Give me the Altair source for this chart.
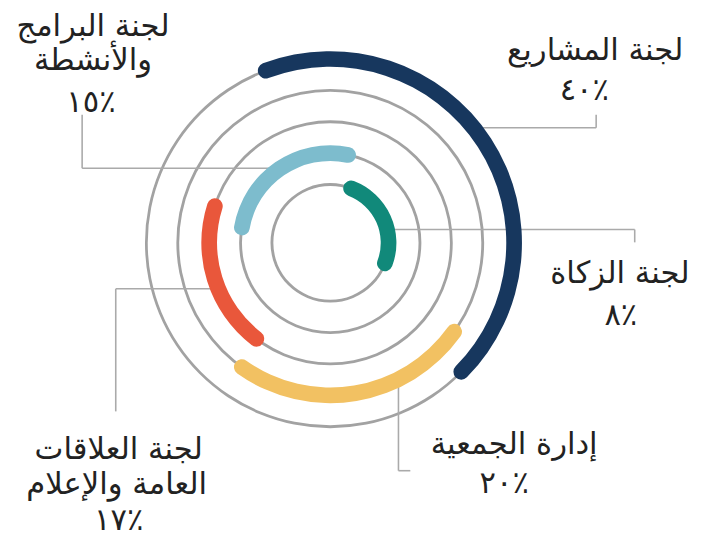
import altair as alt
import pandas as pd

# ---------------- data ----------------
names = [
    "لجنة المشاريع",
    "إدارة الجمعية",
    "لجنة العلاقات العامة والإعلام",
    "لجنة البرامج والأنشطة",
    "لجنة الزكاة",
]
percents = [40, 20, 17, 15, 8]
rings = [5, 4, 3, 2, 1]                      # ring each arc sits on (1 = innermost)
arc_start = [-23, 122.7, 213.9, 274.8, 13.2]  # degrees, clockwise from top
arc_end = [137, 218.4, 291.4, 376.5, 118.3]
colors = ["#17375e", "#f2c162", "#e9573b", "#7dbccd", "#11897a"]
ring_ids = [1, 2, 3, 4, 5]

# label lines (text split as displayed)
label_lines = [
    ["لجنة المشاريع"],
    ["إدارة الجمعية"],
    ["لجنة العلاقات", "العامة والإعلام"],
    ["لجنة البرامج", "والأنشطة"],
    ["لجنة الزكاة"],
]

# ---------------- layout ----------------
OFF = 8
CX, CY = 334 - OFF, 242.5 - OFF
label_x = [[602, 591], [520, 510], [120, 118, 120], [94, 94, 92], [627, 628]]
label_baselines = [[58, 98], [456, 496], [461, 497, 533], [33, 68, 110], [283, 326]]
leaders = [
    [(473, 126, 603, 126), (603, 113, 603, 126)],
    [(403, 378, 403, 473), (403, 473, 415, 473)],
    [(117, 289, 222, 289), (117, 289, 117, 413)],
    [(83, 113, 83, 167), (83, 167, 278, 167)],
    [(387, 229, 642, 229), (642, 229, 642, 242)],
]

AR_DIGITS = str.maketrans("0123456789", "٠١٢٣٤٥٦٧٨٩")

arcs_df = pd.DataFrame({
    "name": names, "ring": rings, "start": arc_start, "end": arc_end, "color": colors,
})
rings_df = pd.DataFrame({"ring": ring_ids})

lbl_rows = []
for i, lines in enumerate(label_lines):
    texts = lines + [str(percents[i]).translate(AR_DIGITS) + "٪"]
    for t, xc, yb in zip(texts, label_x[i], label_baselines[i]):
        lbl_rows.append({"t": t, "x": xc - OFF, "y": yb - OFF})
lbl_df = pd.DataFrame(lbl_rows)

seg_rows = []
for segs in leaders:
    for (x1, y1, x2, y2) in segs:
        seg_rows.append({"x1": x1 - OFF, "y1": y1 - OFF, "x2": x2 - OFF, "y2": y2 - OFF})
seg_df = pd.DataFrame(seg_rows)

theta_scale = alt.Scale(domain=[0, 360], range=[0, 6.283185307179586])
r_scale = alt.Scale(type="linear", domain=[1, 5], range=[59, 186], zero=False)

gray = (
    alt.Chart(rings_df)
    .transform_calculate(ro="datum.ring + 0.045", ri="datum.ring - 0.045", t0="0", t1="360")
    .mark_arc(color="#a2a2a2")
    .encode(
        theta=alt.Theta("t0:Q", scale=theta_scale, stack=False),
        theta2="t1:Q",
        radius=alt.Radius("ro:Q", scale=r_scale),
        radius2="ri:Q",
        x=alt.value(CX),
        y=alt.value(CY),
    )
)

colored = (
    alt.Chart(arcs_df)
    .transform_calculate(ro="datum.ring + 0.25", ri="datum.ring - 0.25")
    .mark_arc(cornerRadius=8)
    .encode(
        theta=alt.Theta("start:Q", scale=theta_scale, stack=False),
        theta2="end:Q",
        radius=alt.Radius("ro:Q", scale=r_scale),
        radius2="ri:Q",
        color=alt.Color("color:N", scale=None),
        x=alt.value(CX),
        y=alt.value(CY),
    )
)

rules = (
    alt.Chart(seg_df)
    .mark_rule(color="#aaaaaa", strokeWidth=1.6)
    .encode(
        x=alt.X("x1:Q", scale=None, axis=None),
        y=alt.Y("y1:Q", scale=None, axis=None),
        x2="x2:Q",
        y2="y2:Q",
    )
)

text = (
    alt.Chart(lbl_df)
    .mark_text(font="DejaVu Sans", fontSize=31, color="#222222", align="center",
               baseline="alphabetic", dir="rtl")
    .encode(
        x=alt.X("x:Q", scale=None, axis=None),
        y=alt.Y("y:Q", scale=None, axis=None),
        text="t:N",
    )
)

chart = (
    alt.layer(gray, rules, colored, text)
    .properties(width=696, height=530, padding=0, autosize="none", background="white")
    .configure_view(stroke=None)
)

chart.save("out.html", embed_options={"renderer": "svg", "actions": False})
